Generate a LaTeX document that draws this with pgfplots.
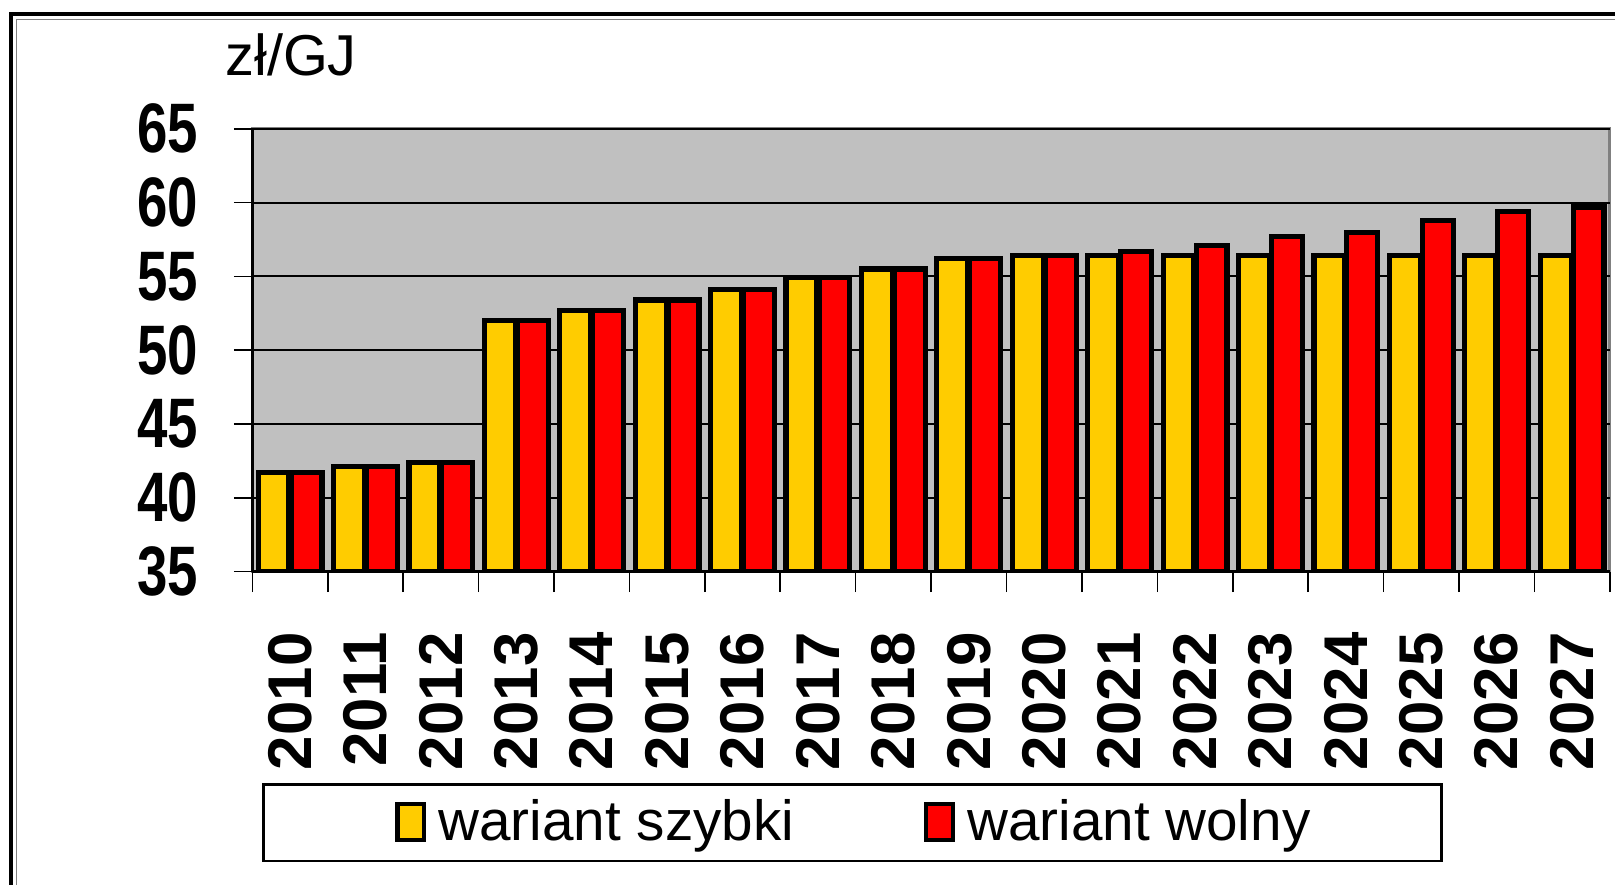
\documentclass[border=0pt]{standalone}
\usepackage{pgfplots}
\pgfplotsset{compat=1.18}
\usepackage{fontspec}
\setmainfont{Liberation Sans}
\definecolor{barY}{HTML}{FFCC00}
\definecolor{barR}{HTML}{FF0000}
\definecolor{bgc}{HTML}{C0C0C0}
\begin{document}
\begin{tikzpicture}
\useasboundingbox (0,0) rectangle (392pt,214.75pt);
\fill[white] (0,0) rectangle (392pt,214.75pt);
\draw[black, line width=1pt] (2.75pt,0) -- (2.75pt,211.25pt) -- (392pt,211.25pt);
\draw[gray, line width=0.4pt] (4pt,0) -- (4pt,210pt) -- (392pt,210pt);
\begin{axis}[
  at={(61.25pt,76pt)}, anchor=south west,
  scale only axis, width=329.5pt, height=107.5pt,
  ymin=35, ymax=65, ytick={35,40,...,65},
  xmin=-0.5, xmax=17.5,
  xtick={-0.5,0.5,...,17.5},
  xticklabels={2010,2011,2012,2013,2014,2015,2016,2017,2018,2019,2020,2021,2022,2023,2024,2025,2026,2027},
  x tick label as interval,
  axis x line=bottom, axis y line=left,
  axis line style={-, black, line width=0.8pt},
  axis background/.style={fill=bgc, draw=gray, line width=0.7pt},
  ymajorgrids, grid style={black, line width=0.45pt},
  tick align=outside, major tick length=4.5pt,
  xtick style={/pgfplots/major tick length=5pt},
  tick style={black, line width=0.4pt},
  /pgf/number format/assume math mode=true,
  yticklabel style={font=\bfseries\fontsize{17}{17}\selectfont, xscale=0.78, xshift=-7.5pt},
  xticklabel style={font=\bfseries\fontsize{15}{15}\selectfont, rotate=90, anchor=east, xshift=-6.75pt},
  ybar=0.5pt, bar width=7.5pt,
  legend columns=2,
  legend style={at={(0.442,-0.567)}, anchor=center, draw=black, line width=0.6pt,
    font=\fontsize{13.75}{14}\selectfont, inner xsep=29.75pt, inner ysep=1.5pt,
    /tikz/every even column/.append style={column sep=27.25pt}},
]
\addplot[fill=barY, draw=black, line width=1.25pt,
  legend image code/.code={\draw[fill=barY, draw=black, line width=1.1pt] (0pt,-4.2pt) rectangle (6.5pt,4.5pt); \path[draw=none, fill=none] (-2.75pt,0) -- (8pt,0);}]
  coordinates {(0,41.7) (1,42.1) (2,42.4) (3,52.0) (4,52.7) (5,53.4) (6,54.1) (7,54.9) (8,55.5) (9,56.2) (10,56.4) (11,56.4) (12,56.4) (13,56.4) (14,56.4) (15,56.4) (16,56.4) (17,56.4)};
\addplot[fill=barR, draw=black, line width=1.25pt,
  legend image code/.code={\draw[fill=barR, draw=black, line width=1.1pt] (0pt,-4.2pt) rectangle (6.5pt,4.5pt); \path[draw=none, fill=none] (-2.75pt,0) -- (8pt,0);}]
  coordinates {(0,41.7) (1,42.1) (2,42.4) (3,52.0) (4,52.7) (5,53.4) (6,54.1) (7,54.9) (8,55.5) (9,56.2) (10,56.4) (11,56.7) (12,57.1) (13,57.7) (14,58.0) (15,58.8) (16,59.4) (17,59.7)};
\legend{wariant szybki, wariant wolny}
\end{axis}
\node[anchor=base west, font=\fontsize{14}{14}\selectfont, inner sep=0pt] at (54.5pt,196.5pt) {zł/GJ};
\end{tikzpicture}
\end{document}
